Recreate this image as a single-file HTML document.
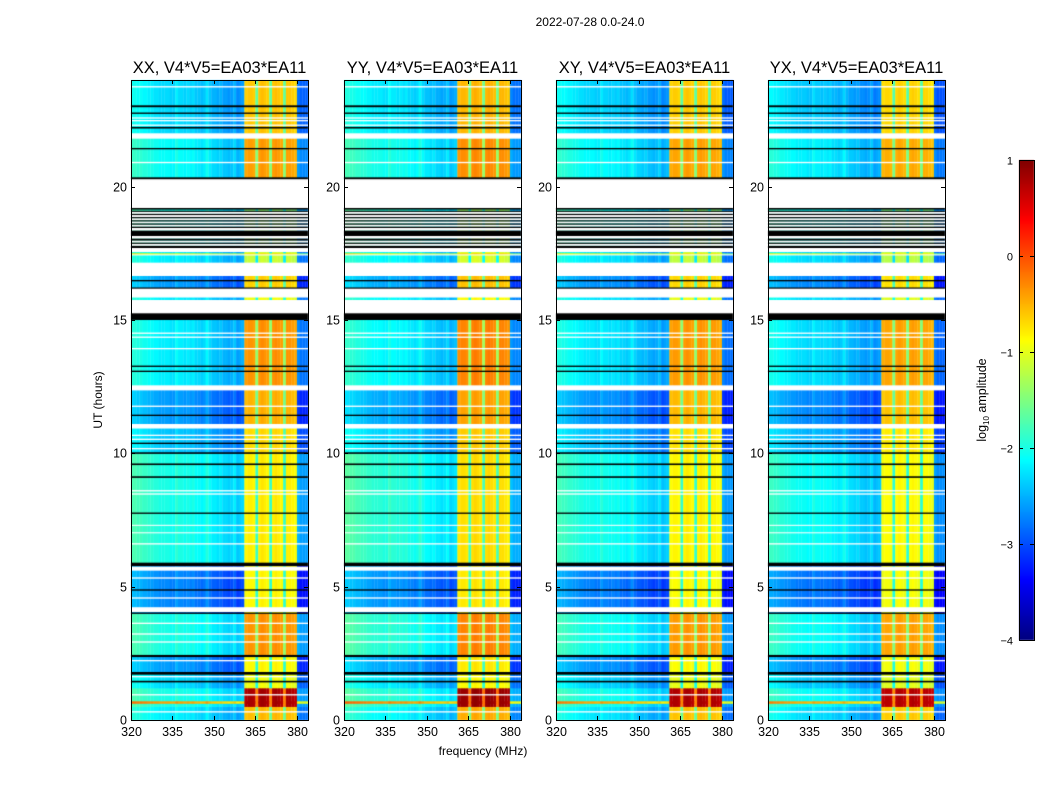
<!DOCTYPE html>
<html><head><meta charset="utf-8">
<style>
html,body{margin:0;padding:0;background:#fff;}
#wrap{position:relative;width:1050px;height:800px;overflow:hidden;font-family:"Liberation Sans",sans-serif;}
canvas,svg{position:absolute;left:0;top:0;}
</style></head>
<body>
<div id="wrap">
<canvas id="cv" width="1050" height="800"></canvas>
<svg id="ov" width="1050" height="800"></svg>
</div>
<script>
// ---- data ----
const panelTitles = ["XX, V4*V5=EA03*EA11","YY, V4*V5=EA03*EA11","XY, V4*V5=EA03*EA11","YX, V4*V5=EA03*EA11"];
const panelGain = [0, 0.08, -0.03, -0.08];
const freqTicks = [320,335,350,365,380];
const timeTicks = [0,5,10,15,20];
const cbarTicks = [1,0,-1,-2,-3,-4];
// channel band codes (320..383 MHz): L=low band, H=high band, G=gap, E=edge
const chanBand = [
 "L","L","L","L","L","L","L","L","L","L","L","L","L","L","L","L","L","L","L","L",
 "L","L","L","L","L","L","L","L","L","L","L","L","L","L","L","L","L","L","L","L","L",
 "H","H","H","H","G","H","H","H","H","G","H","H","H","H","G","H","H","H","H",
 "E","E","E","E"];
const chanOffset = [
 0.25,0.25,0.2,0.2,0.15,0.15,0.1,0.1,0.05,0.05,0,0,0,0,-0.05,-0.05,0.1,0,0,-0.05,
 0,-0.05,0,-0.1,-0.1,-0.15,-0.1,0.05,-0.1,-0.2,-0.2,-0.25,-0.2,-0.3,-0.3,-0.35,-0.3,-0.2,-0.4,-0.35,-0.3,
 0,0.05,0.05,0,-0.6,0.05,0.1,0.05,0,-0.6,0.05,0.1,0.05,0,-0.6,0.05,0.05,0,-0.05,
 -0.5,-0.6,-0.6,-0.6];
// data segments: [t0, t1, lowBandLevel, highBandLevel]
const segments = [
 [0,0.5,-2.2,-0.6],[0.5,1.2,-2.0,0.75],[0.62,0.7,-0.4,0.75],[1.2,1.75,-2.3,-1.0],
 [1.75,2.4,-2.6,-0.9],[2.4,4.0,-2.0,-0.4],[4.0,5.8,-2.7,-0.9],[5.8,10.0,-2.0,-0.85],
 [10.0,11.1,-2.4,-0.75],[11.1,12.4,-2.6,-0.55],[12.4,15.0,-2.2,-0.4],[15.75,15.85,-2.2,-1.0],
 [16.2,16.65,-2.6,-0.7],[17.15,17.7,-2.2,-1.2],[17.45,17.5,-1.0,-0.8],[17.7,19.2,-2.0,-1.5],
 [20.3,22.0,-2.1,-0.45],[22.0,24.0,-2.3,-0.65]];
// flagged (white) bands [t0,t1]
const whiteBands = [
 [0.28,0.33],[0.92,0.97],[1.6,1.65],[2.2,2.25],[2.9,2.95],[3.2,3.25],[3.6,3.65],
 [4.05,4.23],[4.55,4.6],[5.3,5.35],[5.6,5.75],[6.58,6.63],[7.0,7.04],[7.28,7.32],
 [8.45,8.5],[8.57,8.62],[10.15,10.2],[10.5,10.55],[10.65,10.7],[10.93,11.1],[11.74,11.79],
 [12.36,12.55],[13.9,13.95],[14.33,14.38],[14.48,14.53],[15.25,15.75],[15.85,16.2],
 [16.65,17.15],[17.42,17.46],[17.55,17.7],[19.2,20.3],[20.88,20.93],[21.8,22.0],
 [22.28,22.33],[22.45,22.5],[22.55,22.6],[23.72,23.77]];
// black lines [t0,t1]
const blackBands = [
 [1.41,1.47],[1.7,1.8],[2.36,2.44],[3.98,4.03],[4.85,4.9],[5.77,5.9],[7.73,7.78],
 [9.08,9.14],[9.56,9.62],[9.98,10.04],[10.35,10.4],[11.4,11.45],[13.05,13.1],[13.24,13.29],
 [15.0,15.25],[16.18,16.22],[16.45,16.5],[17.7,17.78],[17.86,17.9],[17.98,18.05],[18.15,18.35],
 [18.45,18.5],[18.58,18.62],[18.7,18.74],[18.82,18.86],[18.94,18.98],[19.06,19.1],[19.14,19.2],
 [20.28,20.35],[21.4,21.45],[22.18,22.24],[22.73,22.78],[22.98,23.05]];
// white stripes inside the striped 17.7-19.2 region
const stripeWhite = [[17.78,17.86],[17.9,17.98],[18.05,18.15],[18.35,18.45],[18.5,18.58],[18.62,18.7],[18.74,18.82],[18.86,18.94],[18.98,19.06]];

// ---- layout ----
const panelLeft = [131,344,556,768];
const PW = 177, PT = 80, PB = 720;
const F0 = 320, F1 = 384, T0 = 0, T1 = 24;
function xS(p,f){return panelLeft[p] + (f-F0)/(F1-F0)*PW;}
function yS(t){return PB - (t-T0)/(T1-T0)*(PB-PT);}
const CB = {x:1019,w:15,top:160,bot:640,vmin:-4,vmax:1};

function jet(v){
  let x = (v-CB.vmin)/(CB.vmax-CB.vmin); x = Math.max(0,Math.min(1,x));
  const c = q => Math.max(0,Math.min(1, q));
  const r = c(1.5 - Math.abs(4*x-3)), g = c(1.5 - Math.abs(4*x-2)), b = c(1.5 - Math.abs(4*x-1));
  return `rgb(${Math.round(r*255)},${Math.round(g*255)},${Math.round(b*255)})`;
}

const cv = document.getElementById('cv'); const ctx = cv.getContext('2d');
ctx.fillStyle = '#fff'; ctx.fillRect(0,0,1050,800);
for (let p=0;p<4;p++){
  for (const s of segments){
    const y0 = yS(s[1]), y1 = yS(s[0]);
    for (let i=0;i<chanBand.length;i++){
      const band = chanBand[i];
      let v;
      if (band==='L') v = s[2] + chanOffset[i];
      else if (band==='E') v = s[2] + chanOffset[i];
      else if (band==='G') v = Math.max(s[2], s[3] + chanOffset[i] - 0.4);
      else v = s[3] + chanOffset[i];
      v += panelGain[p];
      ctx.fillStyle = jet(v);
      const xa = xS(p,F0+i), xb = xS(p,F0+i+1);
      ctx.fillRect(xa, y0, xb-xa+0.3, y1-y0+0.3);
    }
  }
  const x0 = xS(p,F0), x1 = xS(p,F1);
  ctx.fillStyle = '#fff';
  for (const w of whiteBands.concat(stripeWhite)) ctx.fillRect(x0, yS(w[1]), x1-x0, yS(w[0])-yS(w[1]));
  ctx.fillStyle = '#000';
  for (const b of blackBands) ctx.fillRect(x0, yS(b[1]), x1-x0, Math.max(1.2, yS(b[0])-yS(b[1])));
}
// colorbar
for (let y=CB.top;y<CB.bot;y++){
  const v = CB.vmax - (y-CB.top+0.5)/(CB.bot-CB.top)*(CB.vmax-CB.vmin);
  ctx.fillStyle = jet(v); ctx.fillRect(CB.x, y, CB.w, 1);
}

// ---- overlay ----
const svg = document.getElementById('ov'); const NS='http://www.w3.org/2000/svg';
function el(tag, attrs, text){
  const e = document.createElementNS(NS, tag);
  for (const k in attrs) e.setAttribute(k, attrs[k]);
  if (text!==undefined) e.textContent = text;
  svg.appendChild(e); return e;
}
const st = el('text',{x:590,y:26,'font-size':12,'text-anchor':'middle','font-family':'Liberation Sans, sans-serif'},'2022-07-28 0.0-24.0');


for (let p=0;p<4;p++){
  const L = panelLeft[p];
  const fr = el('rect',{x:L+0.5,y:PT+0.5,width:PW,height:PB-PT,fill:'none',stroke:'#000','stroke-width':1});
  
  
  const tt = el('text',{x:L+PW/2,y:PT-7,'font-size':16.5,'text-anchor':'middle','font-family':'Liberation Sans, sans-serif'},panelTitles[p]);
  
  
  for (const f of freqTicks){
    const x = Math.round(xS(p,f))+0.5;
    el('line',{x1:x,y1:PB,x2:x,y2:PB-4,stroke:'#000'});
    el('line',{x1:x,y1:PT,x2:x,y2:PT+4,stroke:'#000'});
    const tl = el('text',{x:x,y:PB+16,'font-size':12.5,'text-anchor':'middle','font-family':'Liberation Sans, sans-serif'},String(f));
    
    
  }
  for (const t of timeTicks){
    const y = Math.round(yS(t))+0.5;
    el('line',{x1:L,y1:y,x2:L+4,y2:y,stroke:'#000'});
    el('line',{x1:L+PW,y1:y,x2:L+PW-4,y2:y,stroke:'#000'});
    const tl = el('text',{x:L-4,y:y+4,'font-size':12.5,'text-anchor':'end','font-family':'Liberation Sans, sans-serif'},String(t));
    
    
  }
}
const xl = el('text',{x:483,y:755,'font-size':12,'text-anchor':'middle','font-family':'Liberation Sans, sans-serif'},'frequency (MHz)');


const yl = el('text',{x:102,y:400,'font-size':12,'text-anchor':'middle','transform':'rotate(-90 102 400)','font-family':'Liberation Sans, sans-serif'},'UT (hours)');


// colorbar frame & ticks
const cbf = el('rect',{x:CB.x+0.5,y:CB.top+0.5,width:CB.w,height:CB.bot-CB.top,fill:'none',stroke:'#000'});


for (const v of cbarTicks){
  const y = Math.round(CB.top + (CB.vmax-v)/(CB.vmax-CB.vmin)*(CB.bot-CB.top))+0.5;
  el('line',{x1:CB.x,y1:y,x2:CB.x+4,y2:y,stroke:'#000'});
  el('line',{x1:CB.x+CB.w,y1:y,x2:CB.x+CB.w-4,y2:y,stroke:'#000'});
  const tl = el('text',{x:CB.x-6,y:y+4,'font-size':11,'text-anchor':'end','font-family':'Liberation Sans, sans-serif'},(v<0?'\u2212'+(-v):String(v)));
  
  
}
const cl = el('text',{x:986,y:400,'font-size':12.5,'text-anchor':'middle','transform':'rotate(-90 986 400)','font-family':'Liberation Sans, sans-serif'});


cl.innerHTML = 'log<tspan font-size="8" dy="3">10</tspan><tspan dy="-3"> amplitude</tspan>';
</script>
</body></html>
